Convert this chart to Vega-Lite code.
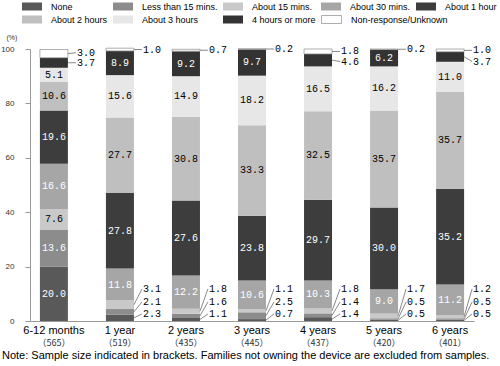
{
  "$schema": "https://vega.github.io/schema/vega-lite/v6.json",
  "width": 444,
  "height": 272,
  "autosize": {"type": "none"},
  "padding": {"left": 30, "top": 49, "right": 26, "bottom": 45},
  "background": "white",
  "config": {"view": {"stroke": null}},
  "title": {
    "text": "Note: Sample size indicated in brackets. Families not owning the device are excluded from samples.",
    "orient": "bottom", "anchor": "start", "frame": "group", "dx": -28, "offset": 3,
    "fontSize": 11, "font": "Liberation Sans", "fontWeight": "normal", "color": "#000"
  },
  "data": {"values": [
    {"age":"6-12 months","n":"565","cat":"None","order":1,"value":20.0},
    {"age":"6-12 months","n":"565","cat":"Less than 15 mins.","order":2,"value":13.6},
    {"age":"6-12 months","n":"565","cat":"About 15 mins.","order":3,"value":7.6},
    {"age":"6-12 months","n":"565","cat":"About 30 mins.","order":4,"value":16.6},
    {"age":"6-12 months","n":"565","cat":"About 1 hour","order":5,"value":19.6},
    {"age":"6-12 months","n":"565","cat":"About 2 hours","order":6,"value":10.6},
    {"age":"6-12 months","n":"565","cat":"About 3 hours","order":7,"value":5.1},
    {"age":"6-12 months","n":"565","cat":"4 hours or more","order":8,"value":3.7},
    {"age":"6-12 months","n":"565","cat":"Non-response/Unknown","order":9,"value":3.0},
    {"age":"1 year","n":"519","cat":"None","order":1,"value":2.3},
    {"age":"1 year","n":"519","cat":"Less than 15 mins.","order":2,"value":2.1},
    {"age":"1 year","n":"519","cat":"About 15 mins.","order":3,"value":3.1},
    {"age":"1 year","n":"519","cat":"About 30 mins.","order":4,"value":11.8},
    {"age":"1 year","n":"519","cat":"About 1 hour","order":5,"value":27.8},
    {"age":"1 year","n":"519","cat":"About 2 hours","order":6,"value":27.7},
    {"age":"1 year","n":"519","cat":"About 3 hours","order":7,"value":15.6},
    {"age":"1 year","n":"519","cat":"4 hours or more","order":8,"value":8.9},
    {"age":"1 year","n":"519","cat":"Non-response/Unknown","order":9,"value":1.0},
    {"age":"2 years","n":"435","cat":"None","order":1,"value":1.1},
    {"age":"2 years","n":"435","cat":"Less than 15 mins.","order":2,"value":1.6},
    {"age":"2 years","n":"435","cat":"About 15 mins.","order":3,"value":1.8},
    {"age":"2 years","n":"435","cat":"About 30 mins.","order":4,"value":12.2},
    {"age":"2 years","n":"435","cat":"About 1 hour","order":5,"value":27.6},
    {"age":"2 years","n":"435","cat":"About 2 hours","order":6,"value":30.8},
    {"age":"2 years","n":"435","cat":"About 3 hours","order":7,"value":14.9},
    {"age":"2 years","n":"435","cat":"4 hours or more","order":8,"value":9.2},
    {"age":"2 years","n":"435","cat":"Non-response/Unknown","order":9,"value":0.7},
    {"age":"3 years","n":"445","cat":"None","order":1,"value":0.7},
    {"age":"3 years","n":"445","cat":"Less than 15 mins.","order":2,"value":2.5},
    {"age":"3 years","n":"445","cat":"About 15 mins.","order":3,"value":1.1},
    {"age":"3 years","n":"445","cat":"About 30 mins.","order":4,"value":10.6},
    {"age":"3 years","n":"445","cat":"About 1 hour","order":5,"value":23.8},
    {"age":"3 years","n":"445","cat":"About 2 hours","order":6,"value":33.3},
    {"age":"3 years","n":"445","cat":"About 3 hours","order":7,"value":18.2},
    {"age":"3 years","n":"445","cat":"4 hours or more","order":8,"value":9.7},
    {"age":"3 years","n":"445","cat":"Non-response/Unknown","order":9,"value":0.2},
    {"age":"4 years","n":"437","cat":"None","order":1,"value":1.4},
    {"age":"4 years","n":"437","cat":"Less than 15 mins.","order":2,"value":1.4},
    {"age":"4 years","n":"437","cat":"About 15 mins.","order":3,"value":1.8},
    {"age":"4 years","n":"437","cat":"About 30 mins.","order":4,"value":10.3},
    {"age":"4 years","n":"437","cat":"About 1 hour","order":5,"value":29.7},
    {"age":"4 years","n":"437","cat":"About 2 hours","order":6,"value":32.5},
    {"age":"4 years","n":"437","cat":"About 3 hours","order":7,"value":16.5},
    {"age":"4 years","n":"437","cat":"4 hours or more","order":8,"value":4.6},
    {"age":"4 years","n":"437","cat":"Non-response/Unknown","order":9,"value":1.8},
    {"age":"5 years","n":"420","cat":"None","order":1,"value":0.5},
    {"age":"5 years","n":"420","cat":"Less than 15 mins.","order":2,"value":0.5},
    {"age":"5 years","n":"420","cat":"About 15 mins.","order":3,"value":1.7},
    {"age":"5 years","n":"420","cat":"About 30 mins.","order":4,"value":9.0},
    {"age":"5 years","n":"420","cat":"About 1 hour","order":5,"value":30.0},
    {"age":"5 years","n":"420","cat":"About 2 hours","order":6,"value":35.7},
    {"age":"5 years","n":"420","cat":"About 3 hours","order":7,"value":16.2},
    {"age":"5 years","n":"420","cat":"4 hours or more","order":8,"value":6.2},
    {"age":"5 years","n":"420","cat":"Non-response/Unknown","order":9,"value":0.2},
    {"age":"6 years","n":"401","cat":"None","order":1,"value":0.5},
    {"age":"6 years","n":"401","cat":"Less than 15 mins.","order":2,"value":0.5},
    {"age":"6 years","n":"401","cat":"About 15 mins.","order":3,"value":1.2},
    {"age":"6 years","n":"401","cat":"About 30 mins.","order":4,"value":11.2},
    {"age":"6 years","n":"401","cat":"About 1 hour","order":5,"value":35.2},
    {"age":"6 years","n":"401","cat":"About 2 hours","order":6,"value":35.7},
    {"age":"6 years","n":"401","cat":"About 3 hours","order":7,"value":11.0},
    {"age":"6 years","n":"401","cat":"4 hours or more","order":8,"value":3.7},
    {"age":"6 years","n":"401","cat":"Non-response/Unknown","order":9,"value":1.0}
  ]},
  "transform": [
    {"calculate": "datum.age + '|' + datum.n", "as": "xk"},
    {"stack": "value", "groupby": ["xk"], "sort": [{"field": "order", "order": "ascending"}], "as": ["y0", "y1"]},
    {"calculate": "(datum.y0 + datum.y1) / 2", "as": "mid"},
    {"calculate": "datum.order == 1 ? 2.6 : (datum.order == 2 ? 7.0 : (datum.order == 3 ? 11.8 : (datum.order == 8 ? min(datum.mid, 95.4) : max(datum.mid, 98.6))))", "as": "ly"}
  ],
  "resolve": {"axis": {"x": "independent"}},
  "layer": [
    {
      "transform": [{"filter": "datum.order < 9"}],
      "mark": {"type": "bar"},
      "encoding": {
        "x": {"field": "xk", "type": "nominal",
          "scale": {"domain": ["6-12 months|565","1 year|519","2 years|435","3 years|445","4 years|437","5 years|420","6 years|401"], "paddingInner": 0.576, "paddingOuter": 0.15},
          "axis": {"orient": "bottom", "title": null, "ticks": false, "domain": true, "domainColor": "#999", "labelExpr": "split(datum.label, '|')[0]", "labelFont": "Liberation Sans", "labelFontSize": 11, "labelColor": "#000", "labelPadding": 3, "labelAngle": 0}},
        "y": {"field": "y0", "type": "quantitative", "title": "(%)",
          "scale": {"domain": [0, 100], "nice": false},
          "axis": {"values": [0, 20, 40, 60, 80, 100], "grid": false, "domainColor": "#999", "tickColor": "#999", "tickSize": 5, "labelFontSize": 8, "labelFont": "Liberation Sans", "labelColor": "#333", "labelPadding": 11, "titleAngle": 0, "titleX": -24, "titleY": -12, "titleAlign": "left", "titleBaseline": "middle", "titleFontSize": 7, "titleFontWeight": "normal", "titleFont": "Liberation Sans", "titleColor": "#333"}},
        "y2": {"field": "y1"},
        "color": {"field": "cat", "type": "nominal",
          "scale": {"domain": ["None","Less than 15 mins.","About 15 mins.","About 30 mins.","About 1 hour","About 2 hours","About 3 hours","4 hours or more"],
                    "range": ["#595959","#8c8c8c","#c9c9c9","#a6a6a6","#3d3d3d","#bfbfbf","#e7e7e7","#333333"]},
          "legend": {"orient": "none", "legendX": -8, "legendY": -47.5, "columns": 5, "direction": "horizontal", "title": null, "gridAlign": "each",
            "symbolType": "M-2,-0.8L2,-0.8L2,0.8L-2,0.8Z", "symbolSize": 100, "symbolStrokeWidth": 0, "symbolOffset": 5, "labelOffset": 14,
            "labelFontSize": 9, "labelFont": "Liberation Sans", "labelColor": "#000", "columnPadding": 5, "rowPadding": 3, "padding": 0, "labelLimit": 200}}
      }
    },
    {
      "transform": [{"filter": "datum.order == 9"}],
      "mark": {"type": "bar", "stroke": "#999", "strokeWidth": 0.8},
      "encoding": {
        "x": {"field": "xk", "type": "nominal", "axis": null},
        "y": {"field": "y0", "type": "quantitative", "title": "(%)"},
        "y2": {"field": "y1"},
        "fill": {"field": "cat", "type": "nominal",
          "scale": {"domain": ["Non-response/Unknown"], "range": ["#ffffff"]},
          "legend": {"orient": "none", "legendX": 291, "legendY": -35, "title": null,
            "symbolType": "M-2,-0.8L2,-0.8L2,0.8L-2,0.8Z", "symbolSize": 100, "symbolStrokeWidth": 0.8, "symbolStrokeColor": "#999", "symbolOffset": 5, "labelOffset": 14,
            "labelFontSize": 9, "labelFont": "Liberation Sans", "labelColor": "#000", "padding": 0, "labelLimit": 200}}
      }
    },
    {
      "transform": [{"filter": "datum.value >= 5"}],
      "mark": {"type": "text", "font": "Liberation Mono", "fontSize": 10, "baseline": "middle", "align": "center"},
      "encoding": {
        "x": {"field": "xk", "type": "nominal",
          "axis": {"orient": "bottom", "title": null, "ticks": false, "domain": false, "labelExpr": "'（' + split(datum.label, '|')[1] + '）'", "labelFont": "Noto Sans CJK JP", "labelFontSize": 9, "labelColor": "#333", "labelPadding": 17, "labelAngle": 0}},
        "y": {"field": "mid", "type": "quantitative", "title": "(%)"},
        "text": {"field": "value", "type": "quantitative", "format": ".1f"},
        "color": {"condition": {"test": "indexof([1, 2, 4, 5, 8], datum.order) >= 0", "value": "#ffffff"}, "value": "#000000"}
      }
    },
    {
      "transform": [{"filter": "datum.value < 5 && datum.order >= 8"}],
      "mark": {"type": "rule", "xOffset": 14, "x2Offset": 22, "color": "#555", "strokeWidth": 0.7},
      "encoding": {
        "x": {"field": "xk", "type": "nominal", "axis": null},
        "x2": {"field": "xk"},
        "y": {"field": "mid", "type": "quantitative", "title": "(%)"},
        "y2": {"field": "ly"}
      }
    },
    {
      "transform": [{"filter": "datum.value < 5 && datum.order >= 8"}],
      "mark": {"type": "text", "font": "Liberation Mono", "fontSize": 10, "baseline": "middle", "align": "left", "dx": 23, "color": "#000"},
      "encoding": {
        "x": {"field": "xk", "type": "nominal", "axis": null},
        "y": {"field": "ly", "type": "quantitative", "title": "(%)"},
        "text": {"field": "value", "type": "quantitative", "format": ".1f"}
      }
    },
    {
      "transform": [{"filter": "datum.value < 5 && datum.order <= 3"}],
      "mark": {"type": "rule", "xOffset": 14, "x2Offset": 22, "color": "#555", "strokeWidth": 0.7},
      "encoding": {
        "x": {"field": "xk", "type": "nominal", "axis": null},
        "x2": {"field": "xk"},
        "y": {"field": "mid", "type": "quantitative", "title": "(%)"},
        "y2": {"field": "ly"}
      }
    },
    {
      "transform": [{"filter": "datum.value < 5 && datum.order <= 3"}],
      "mark": {"type": "text", "font": "Liberation Mono", "fontSize": 10, "baseline": "middle", "align": "left", "dx": 23, "color": "#000"},
      "encoding": {
        "x": {"field": "xk", "type": "nominal", "axis": null},
        "y": {"field": "ly", "type": "quantitative", "title": "(%)"},
        "text": {"field": "value", "type": "quantitative", "format": ".1f"}
      }
    }
  ]
}
